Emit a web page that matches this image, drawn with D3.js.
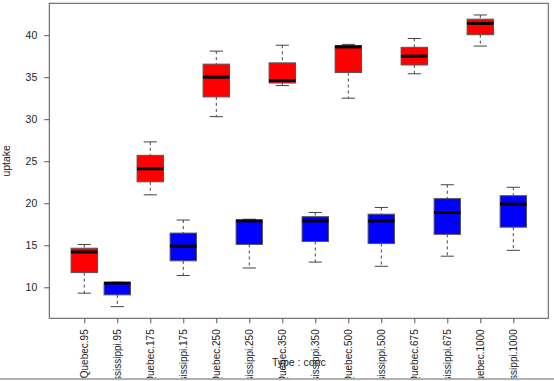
<!DOCTYPE html>
<html><head><meta charset="utf-8">
<script src="https://cdn.jsdelivr.net/npm/d3@7"></script>
<style>
html,body{margin:0;padding:0;background:#fff;overflow:hidden}
svg{display:block;font-family:"Liberation Sans",Arial,sans-serif}
</style></head>
<body>
<script>
// Categories (Type.conc) and observed uptake values (3 plants per group)
const categories = ["Quebec.95","Mississippi.95","Quebec.175","Mississippi.175","Quebec.250","Mississippi.250","Quebec.350","Mississippi.350","Quebec.500","Mississippi.500","Quebec.675","Mississippi.675","Quebec.1000","Mississippi.1000"];
const uptakeValues = [
  [14.2,15.1,9.3],[7.7,10.6,10.5],
  [24.1,21.0,27.3],[11.4,18.0,14.9],
  [30.3,38.1,35.0],[12.3,17.9,18.1],
  [34.6,34.0,38.8],[13.0,17.9,18.9],
  [32.5,38.9,38.6],[12.5,17.9,19.5],
  [35.4,39.6,37.5],[13.7,18.9,22.2],
  [38.7,41.4,42.4],[14.4,19.9,21.9]
];
const fillColors = ["#FF0000","#0000FF"];
const yTicks = [10,15,20,25,30,35,40];

function fivenum(arr){
  const x = arr.slice().sort((a,b)=>a-b), n = x.length;
  const n4 = Math.floor((n+3)/2)/2;
  const d = [1, n4, (n+1)/2, n+1-n4, n];
  return d.map(v => 0.5*(x[Math.floor(v)-1] + x[Math.ceil(v)-1]));
}
function boxStats(arr){
  const f = fivenum(arr);
  const iqr = f[3]-f[1];
  const lo = arr.filter(v => v >= f[1]-1.5*iqr), hi = arr.filter(v => v <= f[3]+1.5*iqr);
  return {q1:f[1], med:f[2], q3:f[3], wlo:d3.min(lo), whi:d3.max(hi)};
}

const W = 554, H = 381, FS = 10;
const plot = {l:49.3, t:3.3, r:548.3, b:318.3};
const svg = d3.select("body").append("svg").attr("width",W).attr("height",H);

const allVals = uptakeValues.flat();
const ymin = d3.min(allVals), ymax = d3.max(allVals), ypad = (ymax-ymin)*0.04;
const y = d3.scaleLinear().domain([ymin-ypad, ymax+ypad]).range([plot.b, plot.t]);
const n = categories.length;
const xpad = n*0.04;
const x = d3.scaleLinear().domain([0.5-xpad, n+0.5+xpad]).range([plot.l, plot.r]);
const bw = x(1.4)-x(1);   // half box width
const sw = bw/2;          // half staple width

svg.append("defs").append("clipPath").attr("id","clipB").append("rect")
  .attr("x",0).attr("y",0).attr("width",W).attr("height",378.5);

const g = svg.append("g");
uptakeValues.forEach((vals,i) => {
  const s = boxStats(vals), cx = x(i+1);
  const col = "#444";
  g.append("line").attr("x1",cx).attr("x2",cx).attr("y1",y(s.whi)).attr("y2",y(s.q3))
    .attr("stroke",col).attr("stroke-dasharray","3,3");
  g.append("line").attr("x1",cx).attr("x2",cx).attr("y1",y(s.q1)).attr("y2",y(s.wlo))
    .attr("stroke",col).attr("stroke-dasharray","3,3");
  g.append("line").attr("x1",cx-sw).attr("x2",cx+sw).attr("y1",y(s.whi)).attr("y2",y(s.whi)).attr("stroke",col);
  g.append("line").attr("x1",cx-sw).attr("x2",cx+sw).attr("y1",y(s.wlo)).attr("y2",y(s.wlo)).attr("stroke",col);
  g.append("rect").attr("x",cx-bw).attr("width",2*bw).attr("y",y(s.q3)).attr("height",y(s.q1)-y(s.q3))
    .attr("fill",fillColors[i%2]).attr("stroke","#555").attr("stroke-width",1);
  g.append("line").attr("x1",cx-bw).attr("x2",cx+bw).attr("y1",y(s.med)).attr("y2",y(s.med))
    .attr("stroke","#000").attr("stroke-width",3);
});

// frame
svg.append("rect").attr("x",plot.l).attr("y",plot.t).attr("width",plot.r-plot.l).attr("height",plot.b-plot.t)
  .attr("fill","none").attr("stroke","#555").attr("stroke-width",1);

// y axis
const yAxis = d3.axisLeft(y).tickValues(yTicks).tickSize(5).tickPadding(7);
const ya = svg.append("g").attr("transform",`translate(${plot.l},0)`).call(yAxis);
ya.select(".domain").remove();
ya.selectAll(".tick line").attr("stroke","#555");
ya.selectAll("text").attr("font-size",FS+0.5).attr("fill","#222").style("font-family","'Liberation Sans',Arial,sans-serif");

// x axis (labels clipped at the bottom edge like the reference)
const clipG = svg.append("g").attr("clip-path","url(#clipB)");
const xAxis = d3.axisBottom(x).tickValues(d3.range(1,n+1)).tickFormat(d => categories[d-1]).tickSize(5);
const xa = clipG.append("g").attr("transform",`translate(0,${plot.b})`).call(xAxis);
xa.select(".domain").remove();
xa.selectAll(".tick line").attr("stroke","#555");
xa.selectAll("text").attr("font-size",FS).attr("fill","#222")
  .style("font-family","'Liberation Sans',Arial,sans-serif")
  .attr("transform","rotate(-90)").attr("text-anchor","end")
  .attr("x",-11).attr("y",0).attr("dy","0.35em");

// axis titles
svg.append("text").attr("x",(plot.l+plot.r)/2).attr("y",366).attr("text-anchor","middle")
  .attr("font-size",FS+0.5).attr("fill","#222").text("Type : conc");
svg.append("text").attr("transform",`translate(10,${(plot.t+plot.b)/2}) rotate(-90)`).attr("text-anchor","middle")
  .attr("font-size",FS+0.5).attr("fill","#222").text("uptake");

// bottom border line
svg.append("line").attr("x1",0).attr("x2",W).attr("y1",379).attr("y2",379).attr("stroke","#999").attr("stroke-width",1.5);
</script>
</body></html>
